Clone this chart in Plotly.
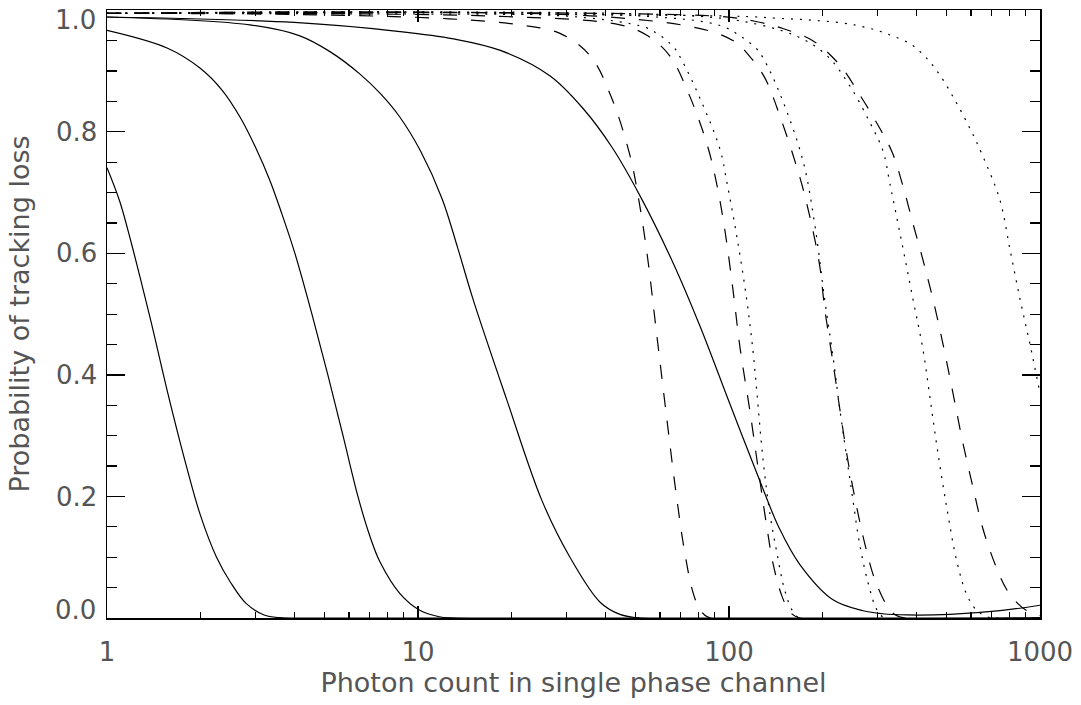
import plotly.graph_objects as go

# ---- data (x: photon count, y: probability) ----
s1_x = [1.0, 1.1, 1.2, 1.3, 1.4, 1.5, 1.6, 1.8, 2.0, 2.25, 2.5, 2.8, 3.2, 3.6, 5.0, 1000]
s1_y = [0.741, 0.685, 0.615, 0.545, 0.478, 0.412, 0.352, 0.25, 0.168, 0.10, 0.058, 0.024, 0.005, 0.0005, 0.0, 0.0]

s2_x = [1.0, 1.56, 1.99, 2.35, 2.68, 3.0, 3.34, 3.65, 4.02, 4.56, 5.13, 5.74, 6.41, 7.0, 7.55, 8.75, 10.1, 11.7, 13.0, 1000]
s2_y = [0.967, 0.938, 0.905, 0.868, 0.824, 0.775, 0.72, 0.665, 0.6, 0.5, 0.4, 0.3, 0.2, 0.135, 0.092, 0.04, 0.013, 0.002, 0.0, 0.0]

s3_x = [1.0, 2.88, 4.17, 5.21, 6.51, 7.6, 8.75, 10.2, 11.95, 13.4, 15.0, 19.3, 25.0, 30.8, 38.5, 44.6, 51.7, 1000]
s3_y = [0.989, 0.976, 0.958, 0.932, 0.895, 0.862, 0.824, 0.768, 0.69, 0.61, 0.526, 0.359, 0.194, 0.10, 0.026, 0.006, 0.0, 0.0]

s4_x = [1.0, 4.0, 8.75, 13.0, 18.4, 26.6, 34.0, 42.0, 51.7, 66.0, 80.7, 100.7, 125.8, 145, 169, 216, 270, 312, 374, 514, 743, 1000]
s4_y = [0.989, 0.98, 0.965, 0.953, 0.934, 0.892, 0.838, 0.775, 0.695, 0.585, 0.48, 0.352, 0.225, 0.148, 0.088, 0.03, 0.012, 0.007, 0.005, 0.006, 0.012, 0.021]

d1_x = [1.0, 4.17, 12.6, 21.3, 28.6, 35.8, 42.0, 48.1, 51.2, 54.5, 58.6, 63.2, 67.6, 72.2, 76.6, 80.7, 86.9, 1000]
d1_y = [0.995, 0.993, 0.986, 0.976, 0.962, 0.925, 0.855, 0.76, 0.69, 0.6, 0.465, 0.325, 0.205, 0.105, 0.042, 0.014, 0.0, 0.0]

d2_x = [1.0, 18.4, 44.6, 54.8, 64.5, 74.6, 85.5, 91.5, 97.2, 103.0, 108.5, 116.8, 125.8, 132.5, 138.5, 148, 157, 169, 1000]
d2_y = [0.995, 0.99, 0.976, 0.958, 0.925, 0.86, 0.775, 0.712, 0.635, 0.54, 0.445, 0.34, 0.225, 0.148, 0.09, 0.036, 0.01, 0.0, 0.0]

d3_x = [1.0, 38.5, 86.6, 106, 114, 130, 146, 169, 182, 195.7, 203, 216, 227, 241, 258, 274, 295, 325, 343, 368, 1000]
d3_y = [0.995, 0.99, 0.966, 0.946, 0.93, 0.89, 0.825, 0.725, 0.66, 0.58, 0.51, 0.42, 0.345, 0.26, 0.18, 0.12, 0.062, 0.017, 0.005, 0.0, 0.0]

d4_x = [1.0, 93.5, 121, 149, 186, 227, 264, 306, 335, 362, 390, 421, 453, 488, 525, 565, 609, 656, 728, 783, 844, 908, 1000]
d4_y = [0.995, 0.99, 0.982, 0.97, 0.95, 0.91, 0.86, 0.805, 0.766, 0.712, 0.65, 0.588, 0.524, 0.45, 0.37, 0.288, 0.215, 0.146, 0.08, 0.046, 0.025, 0.012, 0.004]

t1_x = [1.0, 30.8, 53.7, 58.6, 63.2, 67.0, 70.5, 80.7, 93.6, 98.6, 106.2, 114, 119.4, 123, 128.6, 135.5, 142.5, 151, 160, 169, 1000]
t1_y = [0.995, 0.99, 0.972, 0.962, 0.95, 0.937, 0.918, 0.855, 0.771, 0.715, 0.625, 0.524, 0.44, 0.37, 0.262, 0.17, 0.108, 0.046, 0.012, 0.0, 0.0]

t2_x = [1.0, 54.5, 93.6, 108.5, 123, 128.6, 146, 173, 189, 203, 216, 227, 250, 263, 280, 300, 318, 1000]
t2_y = [0.995, 0.99, 0.975, 0.958, 0.936, 0.922, 0.862, 0.752, 0.645, 0.525, 0.43, 0.345, 0.196, 0.122, 0.058, 0.012, 0.0, 0.0]

t3_x = [1.0, 80.7, 125.8, 169, 207, 245, 284, 313, 329, 354, 390, 421, 443, 467, 502, 541, 582, 627, 676, 717, 1000]
t3_y = [0.995, 0.99, 0.976, 0.955, 0.925, 0.875, 0.815, 0.768, 0.715, 0.635, 0.526, 0.44, 0.362, 0.28, 0.18, 0.092, 0.038, 0.012, 0.002, 0.0, 0.0]

t4_x = [1.0, 110, 142, 182, 233, 264, 299, 335, 382, 427, 477, 533, 596, 656, 743, 801, 863, 929, 1000]
t4_y = [0.995, 0.99, 0.987, 0.984, 0.979, 0.974, 0.967, 0.958, 0.945, 0.924, 0.893, 0.852, 0.805, 0.759, 0.688, 0.606, 0.524, 0.45, 0.37]

x_tickvals = [1, 10, 100, 1000]
x_ticktext = ["1", "10", "100", "1000"]
y_tickvals = [0.0, 0.2, 0.4, 0.6, 0.8, 1.0]
y_ticktext = ["0.0", "0.2", "0.4", "0.6", "0.8", "1.0"]

x_title = "Photon count in single phase channel"
y_title = "Probability of tracking loss"

curves = [
    (s1_x, s1_y, "solid"), (s2_x, s2_y, "solid"), (s3_x, s3_y, "solid"), (s4_x, s4_y, "solid"),
    (d1_x, d1_y, "dash"), (d2_x, d2_y, "dash"), (d3_x, d3_y, "dash"), (d4_x, d4_y, "dash"),
    (t1_x, t1_y, "dot"), (t2_x, t2_y, "dot"), (t3_x, t3_y, "dot"), (t4_x, t4_y, "dot"),
]
dash_map = {"solid": "solid", "dash": "14px,14px", "dot": "2px,7px"}

fig = go.Figure()
for xs, ys, style in curves:
    fig.add_trace(go.Scatter(
        x=xs, y=ys, mode="lines",
        line=dict(color="black", width=1.2, dash=dash_map[style], shape="spline", smoothing=1.0),
        showlegend=False, hoverinfo="skip", cliponaxis=True,
    ))

font = dict(family="DejaVu Sans", size=26, color="#555555")
title_font = dict(family="DejaVu Sans", size=27, color="#555555")

# end labels of the y axis sit inside the frame (as in the reference), drawn as annotations
inner_labels = list(y_ticktext)
inner_labels[0] = ""
inner_labels[-1] = ""
end_shift = {0: 8, len(y_tickvals) - 1: -10}
annotations = []
for i, shift in end_shift.items():
    annotations.append(dict(
        x=0, xref="paper", y=y_tickvals[i], yref="y",
        text=y_ticktext[i], showarrow=False, xanchor="right", yanchor="middle",
        xshift=-9, yshift=shift, font=font,
    ))

fig.update_layout(
    width=1081, height=705,
    margin=dict(l=107, r=41, t=10, b=87, autoexpand=False),
    paper_bgcolor="white", plot_bgcolor="white",
    font=font,
    showlegend=False,
    annotations=annotations,
)
fig.update_xaxes(
    type="log", range=[0, 3], automargin=False,
    tickvals=x_tickvals, ticktext=x_ticktext,
    ticks="inside", ticklen=12, tickwidth=1.2, tickcolor="black",
    minor=dict(ticks="inside", ticklen=6, tickwidth=1.2, tickcolor="black", dtick="D1", showgrid=False),
    showline=True, linecolor="black", linewidth=1.5, mirror="ticks",
    showgrid=False, zeroline=False,
    tickfont=font, ticklabelstandoff=10, ticklabeloverflow="allow",
    title=dict(text=x_title, font=title_font, standoff=4),
)
fig.update_yaxes(
    range=[0, 1.0005], automargin=False,
    tickvals=y_tickvals, ticktext=inner_labels,
    ticks="inside", ticklen=18, tickwidth=1.2, tickcolor="black",
    minor=dict(ticks="inside", ticklen=10, tickwidth=1.2, tickcolor="black", dtick=0.05, showgrid=False),
    showline=True, linecolor="black", linewidth=1.5, mirror="ticks",
    showgrid=False, zeroline=False,
    tickfont=font, ticklabelstandoff=3, ticklabeloverflow="allow",
    title=dict(text=y_title, font=title_font, standoff=18),
)

fig.write_html("out.html", config={"displayModeBar": False, "staticPlot": True},
               post_script="document.body.style.margin='0px';")
